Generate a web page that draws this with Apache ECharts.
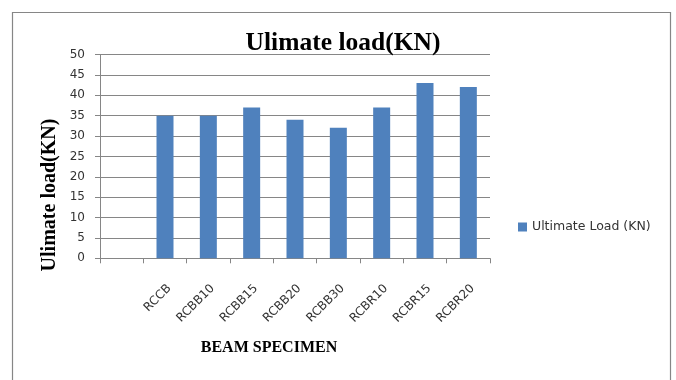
<!DOCTYPE html>
<html><head><meta charset="utf-8">
<script src="https://cdn.jsdelivr.net/npm/echarts@6/dist/echarts.min.js"></script>
<style>html,body{margin:0;padding:0;background:#fff}#c{width:676px;height:380px}</style>
</head><body><div id="c"></div>
<script>
const categories = ['', 'RCCB', 'RCBB10', 'RCBB15', 'RCBB20', 'RCBB30', 'RCBR10', 'RCBR15', 'RCBR20'];
const ultimateLoad = [null, 35, 35, 37, 34, 32, 37, 43, 42];
const seriesName = 'Ultimate Load (KN)';
const chartTitle = 'Ulimate load(KN)';
const yTitle = 'Ulimate load(KN)';
const xTitle = 'BEAM SPECIMEN';

const chart = echarts.init(document.getElementById('c'), null, {renderer: 'canvas'});
const gray = '#868686';
chart.setOption({
  animation: false,
  backgroundColor: '#fff',
  title: {
    text: chartTitle, left: 338, top: 25, textAlign: 'center',
    textStyle: {fontFamily: 'Liberation Serif', fontWeight: 'bold', fontSize: 25.5, color: '#000'}
  },
  legend: {
    left: 513, top: 214, itemWidth: 9, itemHeight: 9, icon: 'rect', itemGap: 4,
    textStyle: {fontFamily: 'DejaVu Sans', fontSize: 12.5, color: '#333', lineHeight: 16}
  },
  grid: {left: 100, right: 186, top: 54.5, bottom: 121.7},
  xAxis: {
    type: 'category', data: categories,
    axisLine: {lineStyle: {color: gray}},
    axisTick: {show: true, length: 5, lineStyle: {color: gray}},
    axisLabel: {interval: 0, rotate: 45, margin: 24, align: 'right', verticalAlign: 'top',
      fontFamily: 'DejaVu Sans', fontSize: 12, color: '#333'}
  },
  yAxis: {
    type: 'value', min: 0, max: 50, interval: 5,
    axisLine: {show: true, lineStyle: {color: gray}},
    axisTick: {show: true, length: 5, lineStyle: {color: gray}},
    axisLabel: {margin: 15, fontFamily: 'DejaVu Sans', fontSize: 12, color: '#333'},
    splitLine: {lineStyle: {color: gray}}
  },
  series: [{
    name: seriesName, type: 'bar', data: ultimateLoad, barWidth: 17,
    itemStyle: {color: '#4F81BD'}
  }],
  graphic: [
    {type: 'rect', shape: {x: 12.5, y: 12.5, width: 658, height: 400}, style: {fill: 'none', stroke: gray, lineWidth: 1.2}, silent: true},
    {type: 'text', x: 50, y: 195, rotation: Math.PI / 2,
     style: {text: yTitle, align: 'center', verticalAlign: 'middle', font: 'bold 20px "Liberation Serif"', fill: '#000'}},
    {type: 'text', x: 269, y: 348,
     style: {text: xTitle, align: 'center', verticalAlign: 'middle', font: 'bold 16px "Liberation Serif"', fill: '#000'}}
  ]
});
</script></body></html>
